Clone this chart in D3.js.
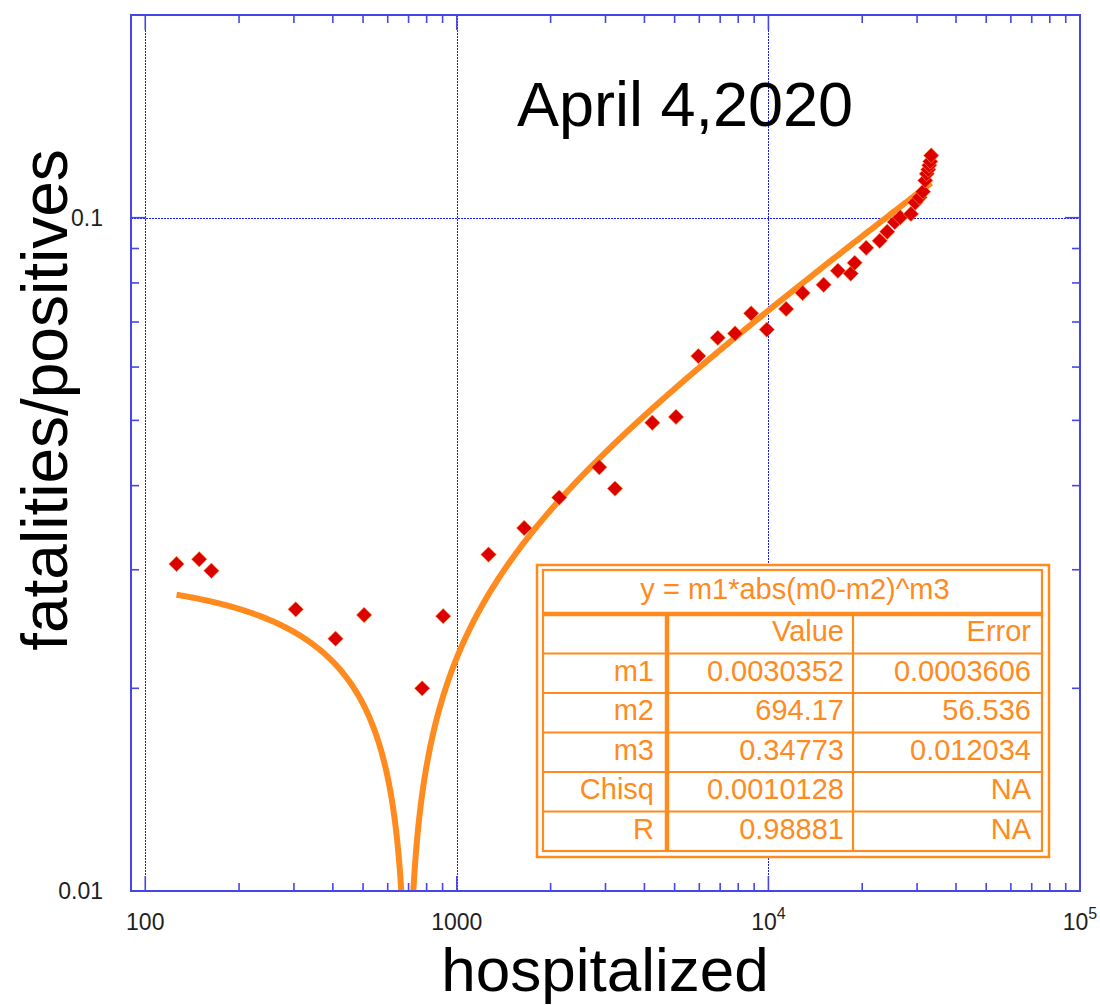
<!DOCTYPE html>
<html>
<head>
<meta charset="utf-8">
<script src="https://cdn.jsdelivr.net/npm/d3@7"></script>
<style>
  html, body { margin: 0; padding: 0; background: #ffffff; }
  svg { display: block; font-family: "Liberation Sans", Arial, Helvetica, sans-serif; }
</style>
</head>
<body>
<svg id="chart" width="1100" height="1005"></svg>
<script>
// Hospitalized count vs. ratio of fatalities to positive tests
const hospitalized = [126, 149, 163, 304, 408, 504, 774, 904, 1264, 1645, 2131, 2865, 3218,
  4241, 5052, 5958, 6878, 7816, 8800, 9883, 11400, 12880, 15040, 16710, 18370, 18920, 20600,
  22760, 24060, 25440, 26500, 28670, 29600, 30560, 31340, 31870, 32230, 32590, 32830, 33070, 33310];
const fatalityRatio = [0.0306, 0.0311, 0.0299, 0.0262, 0.0237, 0.0257, 0.0200, 0.0256, 0.0316,
  0.0346, 0.0384, 0.0426, 0.0396, 0.0496, 0.0506, 0.0623, 0.0663, 0.0673, 0.0721, 0.0682, 0.0732,
  0.0773, 0.0795, 0.0834, 0.0826, 0.0857, 0.0902, 0.0924, 0.0953, 0.0985, 0.1001, 0.1013, 0.1053,
  0.1072, 0.1093, 0.1136, 0.1162, 0.1179, 0.1196, 0.1212, 0.1237];

// Fit results: y = m1*abs(m0-m2)^m3
const fitFormula = "y = m1*abs(m0-m2)^m3";
const fitHeader = ["", "Value", "Error"];
const fitNames = ["m1", "m2", "m3", "Chisq", "R"];
const fitValues = ["0.0030352", "694.17", "0.34773", "0.0010128", "0.98881"];
const fitErrors = ["0.0003606", "56.536", "0.012034", "NA", "NA"];

// Axis ticks
const xMajorTicks = [100, 1000, 10000, 100000];
const xTickLabels = [["100", null], ["1000", null], ["10", "4"], ["10", "5"]];
const yMajorTicks = [0.01, 0.1];
const yTickLabels = ["0.01", "0.1"];

const titleText = "April 4,2020";
const xLabel = "hospitalized";
const yLabel = "fatalities/positives";

const svg = d3.select("#chart");
const pLeft = 131, pRight = 1080, pTop = 15, pBottom = 891;

const x = d3.scaleLog().domain([90, 100000]).range([pLeft, pRight]);
const y = d3.scaleLog().domain([0.01, 0.2]).range([pBottom, pTop]);

const blue = "#4646e6";
const gridBlue = "#1a1aff";
const orange = "#ff8b1f";

// minor ticks
const xMinor = [];
[100, 1000, 10000].forEach(d => { for (let k = 2; k <= 9; k++) xMinor.push(d * k); });
const yMinor = [];
for (let k = 2; k <= 9; k++) yMinor.push(0.01 * k);

// dotted grid at major ticks
const grid = svg.append("g").attr("shape-rendering", "crispEdges");
[100, 1000, 10000].forEach(v => {
  const gx = Math.round(x(v)) + 0.5;
  grid.append("line").attr("x1", gx).attr("x2", gx).attr("y1", pTop).attr("y2", pBottom)
    .attr("stroke", gridBlue).attr("stroke-width", 1).attr("stroke-dasharray", "2,1");
});
const gy = Math.round(y(0.1)) + 0.5;
grid.append("line").attr("x1", pLeft).attr("x2", pRight).attr("y1", gy).attr("y2", gy)
  .attr("stroke", gridBlue).attr("stroke-width", 1).attr("stroke-dasharray", "2,1");

// ticks on all four sides, pointing inward
const ticks = svg.append("g").attr("stroke", blue).attr("stroke-width", 1.6);
const MAJ = 15, MIN = 8;
xMajorTicks.forEach(v => {
  ticks.append("line").attr("x1", x(v)).attr("x2", x(v)).attr("y1", pBottom).attr("y2", pBottom - MAJ);
  ticks.append("line").attr("x1", x(v)).attr("x2", x(v)).attr("y1", pTop).attr("y2", pTop + MAJ);
});
xMinor.forEach(v => {
  ticks.append("line").attr("x1", x(v)).attr("x2", x(v)).attr("y1", pBottom).attr("y2", pBottom - MIN);
  ticks.append("line").attr("x1", x(v)).attr("x2", x(v)).attr("y1", pTop).attr("y2", pTop + MIN);
});
yMajorTicks.forEach(v => {
  ticks.append("line").attr("x1", pLeft).attr("x2", pLeft + MAJ).attr("y1", y(v)).attr("y2", y(v));
  ticks.append("line").attr("x1", pRight).attr("x2", pRight - MAJ).attr("y1", y(v)).attr("y2", y(v));
});
yMinor.forEach(v => {
  ticks.append("line").attr("x1", pLeft).attr("x2", pLeft + MIN).attr("y1", y(v)).attr("y2", y(v));
  ticks.append("line").attr("x1", pRight).attr("x2", pRight - MIN).attr("y1", y(v)).attr("y2", y(v));
});

// clip region for the plotted data
svg.append("clipPath").attr("id", "plotClip")
  .append("rect").attr("x", pLeft).attr("y", pTop).attr("width", pRight - pLeft).attr("height", pBottom - pTop);

// fitted curve over the data range
const m1 = +fitValues[0], m2 = +fitValues[1], m3 = +fitValues[2];
const [xLo, xHi] = d3.extent(hospitalized);
const curveX = [];
const nSamp = 1200;
for (let i = 0; i <= nSamp; i++) curveX.push(Math.exp(Math.log(xLo) + (Math.log(xHi) - Math.log(xLo)) * i / nSamp));
for (let i = -60; i <= 60; i++) curveX.push(m2 + i * 0.8);
curveX.sort((a, b) => a - b);
const curvePts = curveX.map(v => [v, Math.max(m1 * Math.pow(Math.abs(v - m2), m3), 0.004)]);

svg.append("path")
  .attr("clip-path", "url(#plotClip)")
  .attr("d", d3.line().x(d => x(d[0])).y(d => y(d[1]))(curvePts))
  .attr("fill", "none").attr("stroke", orange).attr("stroke-width", 6)
  .attr("stroke-linejoin", "round");

// data markers (diamonds)
const diamond = d3.symbol().type(d3.symbolSquare).size(118);
svg.append("g").attr("clip-path", "url(#plotClip)")
  .selectAll("path").data(hospitalized.map((h, i) => [h, fatalityRatio[i]]))
  .join("path")
  .attr("d", diamond)
  .attr("transform", d => `translate(${x(d[0])},${y(d[1])}) rotate(45)`)
  .attr("fill", "#dc0000")
  .attr("stroke", "#ff9a3a").attr("stroke-width", 0.8).attr("stroke-opacity", 0.7);

// frame
svg.append("rect").attr("x", pLeft).attr("y", pTop).attr("width", pRight - pLeft).attr("height", pBottom - pTop)
  .attr("fill", "none").attr("stroke", blue).attr("stroke-width", 2);

// tick labels
const tl = svg.append("g").attr("fill", "#1e1e1e").attr("font-size", 23);
xMajorTicks.forEach((v, i) => {
  const [base, sup] = xTickLabels[i];
  const t = tl.append("text").attr("x", x(v)).attr("y", 930).attr("text-anchor", "middle");
  t.append("tspan").text(base);
  if (sup) t.append("tspan").attr("font-size", 16).attr("dy", -11).text(sup);
});
yMajorTicks.forEach((v, i) => {
  tl.append("text").attr("x", 103).attr("y", y(v) + 8).attr("text-anchor", "end").text(yTickLabels[i]);
});

// title and axis labels
svg.append("text").attr("x", 685).attr("y", 126).attr("text-anchor", "middle")
  .attr("font-size", 63).attr("fill", "#000").text(titleText);
svg.append("text").attr("x", 605).attr("y", 991).attr("text-anchor", "middle")
  .attr("font-size", 62).attr("fill", "#000").text(xLabel);
svg.append("text").attr("transform", "translate(67,400) rotate(-90)").attr("text-anchor", "middle")
  .attr("font-size", 64).attr("fill", "#000").text(yLabel);

// fit results table
const tb = svg.append("g");
const tX0 = 543, tX1 = 1042, tY0 = 570, tY1 = 851;
const headBottom = 614;
const colA = 667, colB = 853;
const rowH = (tY1 - headBottom) / 6;
tb.append("rect").attr("x", 537).attr("y", 565).attr("width", 1049 - 537).attr("height", 857 - 565)
  .attr("fill", "#fff").attr("stroke", orange).attr("stroke-width", 2.5);
tb.append("rect").attr("x", tX0).attr("y", tY0).attr("width", tX1 - tX0).attr("height", tY1 - tY0)
  .attr("fill", "none").attr("stroke", orange).attr("stroke-width", 2.2);
tb.append("line").attr("x1", tX0).attr("x2", tX1).attr("y1", headBottom).attr("y2", headBottom)
  .attr("stroke", orange).attr("stroke-width", 4.5);
for (let i = 1; i < 6; i++) {
  tb.append("line").attr("x1", tX0).attr("x2", tX1)
    .attr("y1", headBottom + rowH * i).attr("y2", headBottom + rowH * i)
    .attr("stroke", orange).attr("stroke-width", 2.2);
}
tb.append("line").attr("x1", colA).attr("x2", colA).attr("y1", headBottom).attr("y2", tY1)
  .attr("stroke", orange).attr("stroke-width", 4.5);
tb.append("line").attr("x1", colB).attr("x2", colB).attr("y1", headBottom).attr("y2", tY1)
  .attr("stroke", orange).attr("stroke-width", 2.2);

const tt = tb.append("g").attr("fill", orange).attr("font-size", 29);
tt.append("text").attr("x", 795).attr("y", 599).attr("text-anchor", "middle").text(fitFormula);
const rows = [fitHeader].concat(fitNames.map((n, i) => [n, fitValues[i], fitErrors[i]]));
rows.forEach((r, i) => {
  const by = headBottom + rowH * i + 27;
  tt.append("text").attr("x", colA - 13).attr("y", by).attr("text-anchor", "end").text(r[0]);
  tt.append("text").attr("x", colB - 9).attr("y", by).attr("text-anchor", "end").text(r[1]);
  tt.append("text").attr("x", tX1 - 11).attr("y", by).attr("text-anchor", "end").text(r[2]);
});
</script>
</body>
</html>
